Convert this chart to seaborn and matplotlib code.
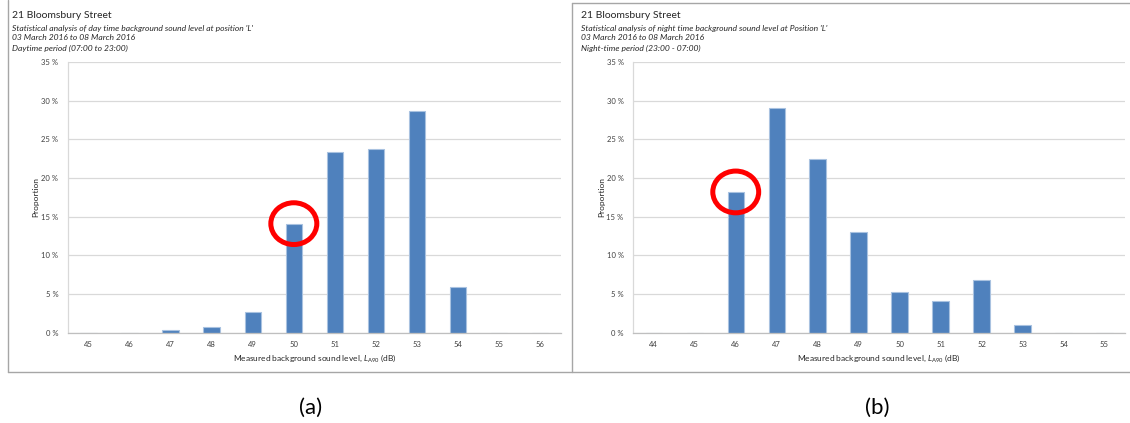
import matplotlib
matplotlib.use("Agg")
import matplotlib.pyplot as plt
from matplotlib.patches import Ellipse
from matplotlib.lines import Line2D
import seaborn as sns

# Day-time background sound level distribution (percent of samples per dB)
day_levels = ["45", "46", "47", "48", "49", "50", "51", "52", "53", "54", "55", "56"]
day_share = [0.0, 0.0, 0.3, 0.8, 2.7, 14.1, 23.3, 23.8, 28.7, 5.9, 0.0, 0.0]
day_marked = "50"

# Night-time background sound level distribution
night_levels = ["44", "45", "46", "47", "48", "49", "50", "51", "52", "53", "54", "55"]
night_share = [0.0, 0.0, 18.2, 29.1, 22.4, 13.0, 5.2, 4.1, 6.8, 1.0, 0.0, 0.0]
night_marked = "46"

day_title = ["Statistical analysis of day time background sound level at position 'L'",
             "03 March 2016 to 08 March 2016",
             "Daytime period (07:00 to 23:00)"]
night_title = ["Statistical analysis of night time background sound level at Position 'L'",
               "03 March 2016 to 08 March 2016",
               "Night-time period (23:00 - 07:00)"]
site = "21 Bloomsbury Street"
y_ticks = [0, 5, 10, 15, 20, 25, 30, 35]

sns.set_style("white")
plt.rcParams["font.family"] = ["Lato", "DejaVu Sans"]
plt.rcParams["mathtext.fontset"] = "custom"
plt.rcParams["mathtext.it"] = "Lato:italic"
plt.rcParams["mathtext.rm"] = "Lato"

W, H = 1130, 423
BLUE = "#4F81BD"
EDGE = "#A9C2E0"
GRID = "#D9D9D9"
AXIS = "#BFBFBF"
TXT = "#404040"
FRAME = "#A6A6A6"

fig = plt.figure(figsize=(W / 100, H / 100), dpi=100)
fig.patch.set_facecolor("white")


def fx(px):
    return px / W


def fy(py):
    return 1 - py / H


def panel(left_px, width_px, levels, share, marked, lines, text_x):
    ax = fig.add_axes([fx(left_px), fy(332.7), width_px / W, 270.7 / H])
    sns.barplot(x=levels, y=share, order=levels, color=BLUE, saturation=1,
                width=0.4, edgecolor=EDGE, linewidth=0.8, ax=ax, zorder=2)
    ax.set_xlim(-0.5, len(levels) - 0.5)
    ax.set_ylim(0, 35)
    ax.set_yticks(y_ticks)
    ax.set_yticklabels([f"{t} %" for t in y_ticks])
    ax.yaxis.grid(True, color=GRID, lw=0.9, zorder=0)
    ax.set_axisbelow(True)
    for s in ("top", "right"):
        ax.spines[s].set_visible(False)
    ax.spines["left"].set_color(GRID)
    ax.spines["bottom"].set_color(AXIS)
    ax.spines["left"].set_linewidth(0.9)
    ax.spines["bottom"].set_linewidth(0.9)
    ax.set_xticks([i - 0.5 for i in range(len(levels) + 1)], minor=True)
    ax.tick_params(axis="x", which="major", length=0, pad=6, labelsize=5.5, labelcolor=TXT)
    ax.tick_params(axis="x", which="minor", length=3, color=AXIS, width=0.8, direction="out")
    ax.tick_params(axis="y", length=3, color=GRID, width=0.8, pad=4, labelsize=5.5,
                   labelcolor=TXT, direction="out")
    ax.set_xlabel(r"Measured background sound level, $L_{\mathrm{A90}}$ (dB)",
                  fontsize=6, color="#262626", labelpad=3)
    ax.set_ylabel("")

    i = levels.index(marked)
    ax.add_patch(Ellipse((i, share[i]), width=1.12, height=5.4, fill=False,
                         ec="#FF0000", lw=3.6, zorder=6, clip_on=False))

    fig.text(fx(left_px - 32), fy(197), "Proportion", rotation=90, ha="center",
             va="center", fontsize=6, color="#262626")
    fig.text(fx(text_x), fy(16), site, ha="left", va="center", fontsize=7.5, color="#262626")
    for k, line in enumerate(lines):
        fig.text(fx(text_x), fy(28 + 10 * k), line, ha="left", va="center",
                 fontsize=6.1, style="italic", color="#262626")
    return ax


panel(68, 492.7, day_levels, day_share, day_marked, day_title, 12.3)
panel(633.3, 491.7, night_levels, night_share, night_marked, night_title, 580.7)

# Frames around the two chart panels
for (x0, y0, x1, y1) in [(8, 0, 8, 372), (8, 372, W, 372), (572, 3, 572, 372), (572, 3, W, 3)]:
    fig.add_artist(Line2D([fx(x0), fx(x1)], [fy(y0), fy(y1)], color=FRAME, lw=1.0))

fig.text(fx(311), fy(408), "(a)", ha="center", va="center", fontsize=16, color="black")
fig.text(fx(877), fy(408), "(b)", ha="center", va="center", fontsize=16, color="black")

fig.savefig("out.png", dpi=100, facecolor="white")
